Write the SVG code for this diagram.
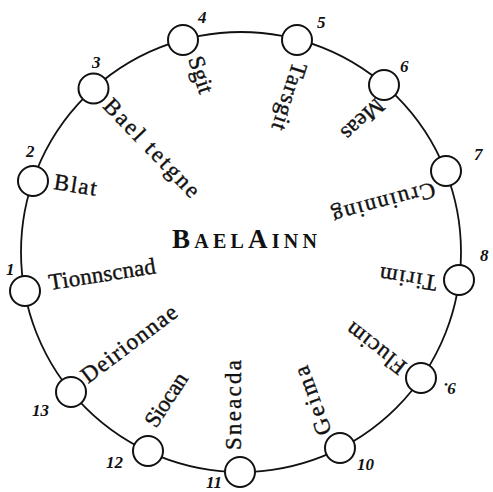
<svg xmlns="http://www.w3.org/2000/svg" width="493" height="492" viewBox="0 0 493 492">
<style>
.ring{fill:none;stroke:#111;stroke-width:1.8}
.node{fill:#fff;stroke:#111;stroke-width:2}
.lbl{font-family:"Liberation Serif","Times New Roman",serif;font-size:23px;fill:#111;stroke:#111;stroke-width:0.4}
.num{font-family:"Liberation Serif","Times New Roman",serif;font-size:17px;font-style:italic;font-weight:bold;fill:#111}
.title{font-family:"Liberation Serif","Times New Roman",serif;font-weight:bold;fill:#111}
</style>
<rect width="493" height="492" fill="#fff"/>
<g id="connectors">
<circle class="ring" cx="241" cy="252" r="220"/>
</g>
<g id="center"><text class="title" x="172" y="248" textLength="145" lengthAdjust="spacing"><tspan font-size="27">B</tspan><tspan font-size="20">AEL</tspan><tspan font-size="27">A</tspan><tspan font-size="20">INN</tspan></text></g>
<g id="n1"><circle class="node" cx="25" cy="291" r="15"/><text class="num" x="6" y="275">1</text><text class="lbl" transform="translate(50,290) rotate(-9)" textLength="108" lengthAdjust="spacing">Tionnscnad</text></g>
<g id="n2"><circle class="node" cx="33" cy="181" r="15"/><text class="num" x="26" y="157">2</text><text class="lbl" transform="translate(53,189) rotate(9)" textLength="43" lengthAdjust="spacing">Blat</text></g>
<g id="n3"><circle class="node" cx="93.5" cy="88.5" r="15"/><text class="num" x="92" y="68">3</text><text class="lbl" transform="translate(102,107) rotate(46)" textLength="128" lengthAdjust="spacing">Bael tetgne</text></g>
<g id="n4"><circle class="node" cx="183" cy="40" r="15"/><text class="num" x="198" y="23">4</text><text class="lbl" transform="translate(188,59) rotate(72)" textLength="38" lengthAdjust="spacing">Sgit</text></g>
<g id="n5"><circle class="node" cx="297" cy="40" r="15"/><text class="num" x="317" y="28">5</text><text class="lbl" transform="translate(293,61) rotate(108)" textLength="70" lengthAdjust="spacing">Tarsgit</text></g>
<g id="n6"><circle class="node" cx="384" cy="85" r="15"/><text class="num" x="400" y="72">6</text><text class="lbl" transform="translate(376,97) rotate(137)" textLength="50" lengthAdjust="spacing">Meas</text></g>
<g id="n7"><circle class="node" cx="446" cy="171" r="15"/><text class="num" x="474" y="160">7</text><text class="lbl" transform="translate(433,182) rotate(165)" textLength="106" lengthAdjust="spacing">Cruinning</text></g>
<g id="n8"><circle class="node" cx="459" cy="280" r="15"/><text class="num" x="480" y="261">8</text><text class="lbl" transform="translate(438,276) rotate(189)" textLength="58" lengthAdjust="spacing">Tirim</text></g>
<g id="n9"><circle class="node" cx="421" cy="378" r="15"/><text class="num" transform="translate(456,383) rotate(180)">9.</text><text class="lbl" transform="translate(408,364) rotate(218)" textLength="70" lengthAdjust="spacing">Flucim</text></g>
<g id="n10"><circle class="node" cx="340" cy="448" r="15"/><text class="num" x="357" y="470">10</text><text class="lbl" transform="translate(332,432) rotate(250)" textLength="72" lengthAdjust="spacing">Geima</text></g>
<g id="n11"><circle class="node" cx="240" cy="472" r="15"/><text class="num" x="206" y="488">11</text><text class="lbl" transform="translate(241,450) rotate(-90)" textLength="90" lengthAdjust="spacing">Sneacda</text></g>
<g id="n12"><circle class="node" cx="148" cy="451" r="15"/><text class="num" x="106" y="468">12</text><text class="lbl" transform="translate(156,429) rotate(-57)" textLength="60" lengthAdjust="spacing">Siocan</text></g>
<g id="n13"><circle class="node" cx="71" cy="392" r="15"/><text class="num" x="32" y="416">13</text><text class="lbl" transform="translate(88,384) rotate(-37)" textLength="114" lengthAdjust="spacing">Deirionnae</text></g>
</svg>
